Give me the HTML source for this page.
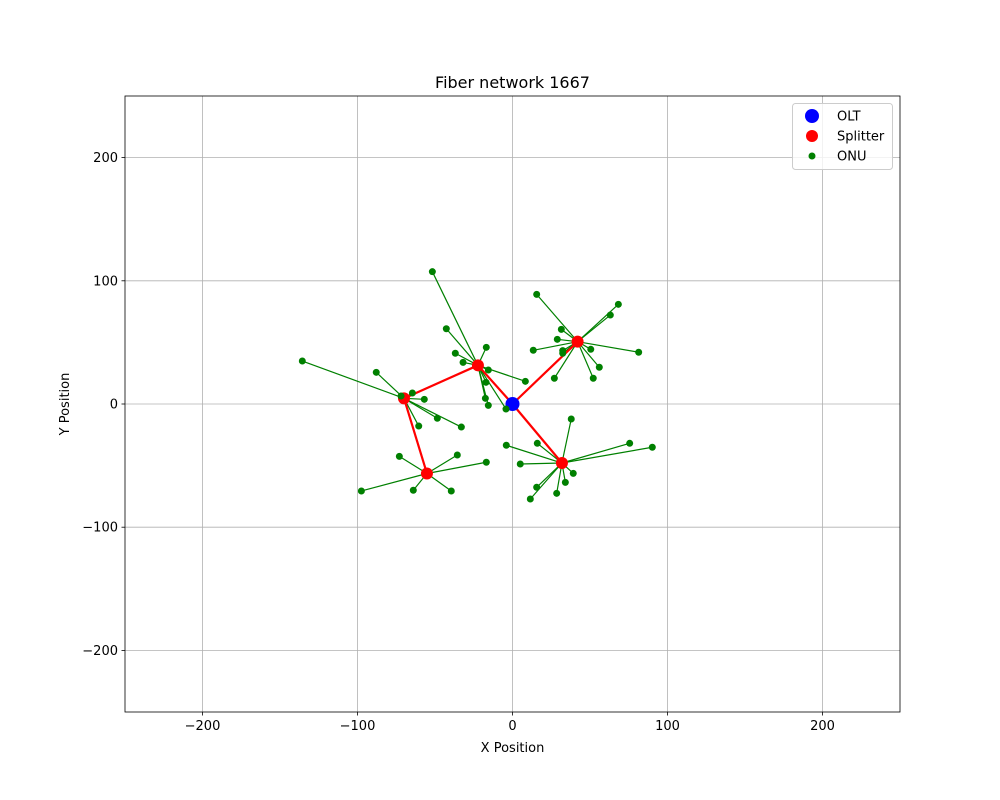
<!DOCTYPE html>
<html><head><meta charset="utf-8"><style>body{margin:0;background:#fff}svg{display:block;font-family:"DejaVu Sans","Liberation Sans",sans-serif}</style></head>
<body>
<svg id="chart" width="1000" height="800"></svg>
<script>
const olt = [0, 0];
const splitterX = [-22.3, -70.0, -55.2, 42.0, 31.9];
const splitterY = [31.4, 4.6, -56.4, 50.6, -47.9];
const onuSplitter = [0,0,0,0,0,0,0,0,0,0,0, 1,1,1,1,1,1,1,1, 2,2,2,2,2,2, 3,3,3,3,3,3,3,3,3,3,3,3,3, 4,4,4,4,4,4,4,4,4,4,4];
const onuX = [-51.7,-42.7,-36.9,-31.9,-16.9,-15.6,-17.1,-17.5,-15.6,8.3,-4.2,
 -135.6,-87.9,-64.6,-56.9,-60.5,-48.5,-33.0,-71.9,
 -73.0,-35.6,-16.9,-97.5,-64.0,-39.5,
 15.6,68.3,63.1,31.5,28.9,13.4,32.4,32.4,50.5,81.4,56.0,27.0,52.1,
 37.9,-4.0,16.0,75.6,90.2,5.0,39.2,34.1,15.6,28.5,11.5];
const onuY = [107.4,61.1,41.2,33.8,46.0,27.6,17.6,4.6,-1.1,18.4,-4.1,
 34.9,25.7,8.9,3.8,-17.9,-11.6,-18.7,6.5,
 -42.5,-41.4,-47.3,-70.6,-70.0,-70.6,
 89.0,80.9,72.2,60.6,52.5,43.6,43.3,41.2,44.4,42.0,29.8,20.9,20.9,
 -12.2,-33.5,-31.9,-31.9,-35.1,-48.7,-56.3,-63.6,-67.6,-72.5,-77.1];
const splitterParent = [-1, 0, 1, -1, -1]; // -1 = OLT
const ticks = [-200, -100, 0, 100, 200];

const L=125,R=900,T=96,B=712;
const sx=v=>L+(v+250)/500*(R-L);
const sy=v=>B-(v+250)/500*(B-T);
const svg=document.getElementById('chart');
const NS='http://www.w3.org/2000/svg';
function mk(tag,attrs,parent){const e=document.createElementNS(NS,tag);for(const k in attrs)e.setAttribute(k,attrs[k]);(parent||svg).appendChild(e);return e;}

const grid=mk('g',{});


ticks.forEach(t=>{
  const gv=mk('line',{x1:sx(t),x2:sx(t),y1:T,y2:B,stroke:'#b0b0b0','stroke-width':0.8},grid);
  
  
  const gh=mk('line',{x1:L,x2:R,y1:sy(t),y2:sy(t),stroke:'#b0b0b0','stroke-width':0.8},grid);
  
  
  const tx=mk('line',{x1:sx(t),x2:sx(t),y1:B,y2:B+3.5,stroke:'#000','stroke-width':0.8});
  
  
  const lx=mk('text',{x:sx(t),y:B+18,'text-anchor':'middle','font-size':13});
  lx.textContent=(t<0?'\u2212'+(-t):t);
  
  
  const ty=mk('line',{x1:L-3.5,x2:L,y1:sy(t),y2:sy(t),stroke:'#000','stroke-width':0.8});
  
  
  const ly=mk('text',{x:L-7,y:sy(t)+4.5,'text-anchor':'end','font-size':13});
  ly.textContent=(t<0?'\u2212'+(-t):t);
  
  
});

// ONU links
onuX.forEach((x,i)=>{
  const s=onuSplitter[i];
  const l=mk('line',{x1:sx(splitterX[s]),y1:sy(splitterY[s]),x2:sx(x),y2:sy(onuY[i]),stroke:'green','stroke-width':1.2});
  
  
});
// splitter links
splitterX.forEach((x,i)=>{
  const p=splitterParent[i];
  const px=p<0?olt[0]:splitterX[p], py=p<0?olt[1]:splitterY[p];
  const l=mk('line',{x1:sx(px),y1:sy(py),x2:sx(x),y2:sy(splitterY[i]),stroke:'red','stroke-width':2.2});
  
  
});
const o=mk('circle',{cx:sx(olt[0]),cy:sy(olt[1]),r:7,fill:'blue'});


splitterX.forEach((x,i)=>{
  const c=mk('circle',{cx:sx(x),cy:sy(splitterY[i]),r:6,fill:'red'});
  
  
});
onuX.forEach((x,i)=>{
  const c=mk('circle',{cx:sx(x),cy:sy(onuY[i]),r:3.5,fill:'green'});
  
  
});
const frame=mk('rect',{x:L,y:T,width:R-L,height:B-T,fill:'none',stroke:'#000','stroke-width':0.8});


</script>
<svg style="position:absolute;left:0;top:0" width="1000" height="800">
<text x="512.5" y="88" text-anchor="middle" font-size="16">Fiber network 1667</text>
<text x="512.5" y="752" text-anchor="middle" font-size="13">X Position</text>
<text transform="translate(69,404) rotate(-90)" text-anchor="middle" font-size="13">Y Position</text>
<g>
<rect x="792.5" y="103.5" width="100" height="66" rx="3" fill="#fff" fill-opacity="0.8" stroke="#ccc"/>
<circle cx="812" cy="116" r="7" fill="blue"/>
<text x="837" y="120.5" font-size="13">OLT</text>
<circle cx="812" cy="136" r="6" fill="red"/>
<text x="837" y="140.5" font-size="13">Splitter</text>
<circle cx="812" cy="156" r="3.5" fill="green"/>
<text x="837" y="160.5" font-size="13">ONU</text>
</g>
</svg>
</body></html>
